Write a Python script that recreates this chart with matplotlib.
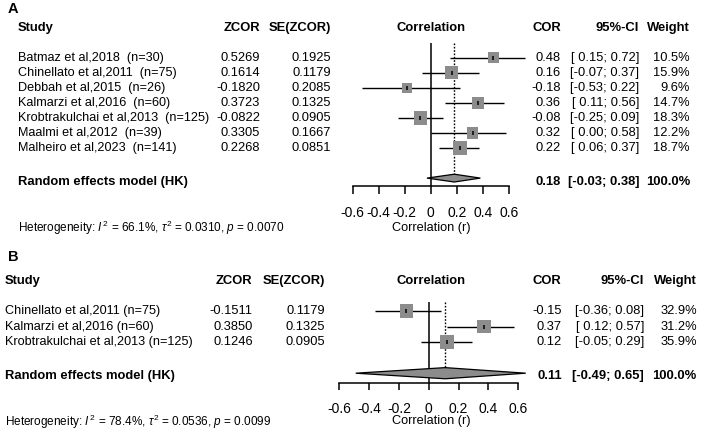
import matplotlib
matplotlib.use("Agg")
import matplotlib.pyplot as plt
from matplotlib.patches import Polygon
from matplotlib.transforms import blended_transform_factory

plt.rcParams['font.family'] = ['Liberation Sans', 'DejaVu Sans']
plt.rcParams['mathtext.fontset'] = 'custom'
plt.rcParams['mathtext.rm'] = 'Liberation Sans'
plt.rcParams['mathtext.it'] = 'Liberation Sans:italic'
plt.rcParams['mathtext.bf'] = 'Liberation Sans:bold'

# ---------------- Data: panel A ----------------
studies_a = ["Batmaz et al,2018  (n=30)", "Chinellato et al,2011  (n=75)",
             "Debbah et al,2015  (n=26)", "Kalmarzi et al,2016  (n=60)",
             "Krobtrakulchai et al,2013  (n=125)", "Maalmi et al,2012  (n=39)",
             "Malheiro et al,2023  (n=141)"]
zcor_a = [0.5269, 0.1614, -0.1820, 0.3723, -0.0822, 0.3305, 0.2268]
se_a = [0.1925, 0.1179, 0.2085, 0.1325, 0.0905, 0.1667, 0.0851]
cor_a = [0.48, 0.16, -0.18, 0.36, -0.08, 0.32, 0.22]
lo_a = [0.15, -0.07, -0.53, 0.11, -0.25, 0.00, 0.06]
hi_a = [0.72, 0.37, 0.22, 0.56, 0.09, 0.58, 0.37]
weight_a = [10.5, 15.9, 9.6, 14.7, 18.3, 12.2, 18.7]
re_a = [0.18, -0.03, 0.38]
re_weight_a = 100.0
het_a = ["66.1%", "0.0310", "0.0070"]

# ---------------- Data: panel B ----------------
studies_b = ["Chinellato et al,2011 (n=75)", "Kalmarzi et al,2016 (n=60)",
             "Krobtrakulchai et al,2013 (n=125)"]
zcor_b = [-0.1511, 0.3850, 0.1246]
se_b = [0.1179, 0.1325, 0.0905]
cor_b = [-0.15, 0.37, 0.12]
lo_b = [-0.36, 0.12, -0.05]
hi_b = [0.08, 0.57, 0.29]
weight_b = [32.9, 31.2, 35.9]
re_b = [0.11, -0.49, 0.65]
re_weight_b = 100.0
het_b = ["78.4%", "0.0536", "0.0099"]

ticks = [-0.6, -0.4, -0.2, 0, 0.2, 0.4, 0.6]
tick_labels = ["-0.6", "-0.4", "-0.2", "0", "0.2", "0.4", "0.6"]

W, H = 702, 433
fig = plt.figure(figsize=(W / 100, H / 100), dpi=100)

SQ_COL = '#8c8c8c'
FS = 9.3       # numbers
FS_NAME = 9.1  # study names
FS_BOLD = 9.4


def panel(letter, studies, zcor, se, cor, lo, hi, w, re, re_w, het, L):
    x0, x1 = L['xm'], L['xp']
    top, bot = L['top'], L['axis_y']
    ax = fig.add_axes([x0 / W, 1 - bot / H, (x1 - x0) / W, (bot - top) / H])
    ax.set_xlim(-0.6, 0.6)
    r0, st = L['row0'], L['step']
    yb = (bot - r0) / st
    yt = (top - r0) / st
    ax.set_ylim(yb, yt)
    ax.patch.set_alpha(0)
    for s in ['top', 'left', 'right']:
        ax.spines[s].set_visible(False)
    ax.spines['bottom'].set_linewidth(1.1)
    ax.set_yticks([])
    ax.set_xticks(ticks)
    ax.set_xticklabels(tick_labels, fontsize=10)
    ax.tick_params(axis='x', direction='out', length=L['tick_len'] * 0.72,
                   width=1.1, pad=L['pad'])

    n = len(studies)
    rows = list(range(n))
    re_row = n + 1
    wmax = max(w)
    ax.axvline(0, color='black', lw=1.1, zorder=1)
    dh = L['dh']
    ax.plot([re[0], re[0]], [yt, re_row - dh], color='black', lw=1.0,
            linestyle=(0, (1.2, 1.2)), zorder=1, clip_on=False)
    for r, l, h in zip(rows, lo, hi):
        ax.plot([l, h], [r, r], color='black', lw=1.0, zorder=2, clip_on=False,
                solid_capstyle='butt')
    sizes = [(14 * (wi / wmax) ** 0.5 * 0.72) ** 2 for wi in w]
    ax.scatter(cor, rows, s=sizes, marker='s', color=SQ_COL, edgecolors='none',
               zorder=3, clip_on=False)
    ax.scatter(cor, rows, s=12, marker='|', color='black', linewidths=1.1,
               zorder=4, clip_on=False)
    est, rl, rh = re
    poly = Polygon([(rl, re_row), (est, re_row - dh), (rh, re_row), (est, re_row + dh)],
                   closed=True, facecolor=SQ_COL, edgecolor='black', lw=0.9,
                   zorder=3, clip_on=False)
    ax.add_patch(poly)

    tr = blended_transform_factory(fig.transFigure, ax.transData)

    def T(px, row, s, **kw):
        kw.setdefault('fontsize', FS)
        kw.setdefault('va', 'center')
        ax.text(px / W, row, s, transform=tr, clip_on=False, **kw)

    def prow(py):
        return (py - r0) / st

    hr = prow(L['header_y'])
    hb = dict(fontweight='bold', fontsize=FS_BOLD)
    T(L['left'], hr, "Study", ha='left', **hb)
    T(L['zc'], hr, "ZCOR", ha='right', **hb)
    T(L['se'], hr, "SE(ZCOR)", ha='right', **hb)
    T(L['corr_c'], hr, "Correlation", ha='center', **hb)
    T(L['cor'], hr, "COR", ha='right', **hb)
    T(L['ci'], hr, "95%-CI", ha='right', **hb)
    T(L['wt'], hr, "Weight", ha='right', **hb)
    for r, name, z, s_, c, l, h, wi in zip(rows, studies, zcor, se, cor, lo, hi, w):
        T(L['left'], r, name, ha='left', fontsize=FS_NAME)
        T(L['zc'], r, f"{z:.4f}", ha='right')
        T(L['se'], r, f"{s_:.4f}", ha='right')
        T(L['cor'], r, f"{c:.2f}", ha='right')
        T(L['ci'], r, f"[{l:5.2f};{h:5.2f}]", ha='right')
        T(L['wt'], r, f"{wi:.1f}%", ha='right')
    rr = re_row + L['re_off']
    T(L['left'], rr, "Random effects model (HK)", ha='left', **hb)
    T(L['cor'], rr, f"{est:.2f}", ha='right', **hb)
    T(L['ci'], rr, f"[{rl:5.2f};{rh:5.2f}]", ha='right', **hb)
    T(L['wt'], rr, f"{re_w:.1f}%", ha='right', **hb)
    T(L['left'], prow(L['het_y']),
      r"Heterogeneity: $\mathit{I}^{\,2}$ = " + het[0] + r", $\tau^2$ = " + het[1]
      + r", $\mathit{p}$ = " + het[2], ha='left', fontsize=8.5)
    T(L['corr_c'], prow(L['xlab_y']), "Correlation (r)", ha='center', fontsize=9.2)
    T(L['letter_x'], prow(L['letter_y']), letter, ha='left', fontweight='bold',
      fontsize=10.5)


LA = dict(xm=352.7, xp=509.0, top=43, axis_y=186, row0=57.7, step=15.05,
          tick_len=8, pad=8.5, dh=0.26, header_y=27.7, re_off=0.25,
          left=18, zc=260, se=331, corr_c=431, cor=561, ci=639, wt=690,
          het_y=228, xlab_y=228, letter_x=8, letter_y=9)
LB = dict(xm=339.3, xp=518.3, top=301.7, axis_y=383.3, row0=311.2, step=15.5,
          tick_len=7, pad=8.5, dh=0.36, header_y=281, re_off=0.18,
          left=5, zc=252.7, se=325, corr_c=431, cor=561.7, ci=644, wt=696.7,
          het_y=421.7, xlab_y=421, letter_x=8, letter_y=257)

panel("A", studies_a, zcor_a, se_a, cor_a, lo_a, hi_a, weight_a, re_a, re_weight_a, het_a, LA)
panel("B", studies_b, zcor_b, se_b, cor_b, lo_b, hi_b, weight_b, re_b, re_weight_b, het_b, LB)

fig.savefig("out.png", dpi=100)
